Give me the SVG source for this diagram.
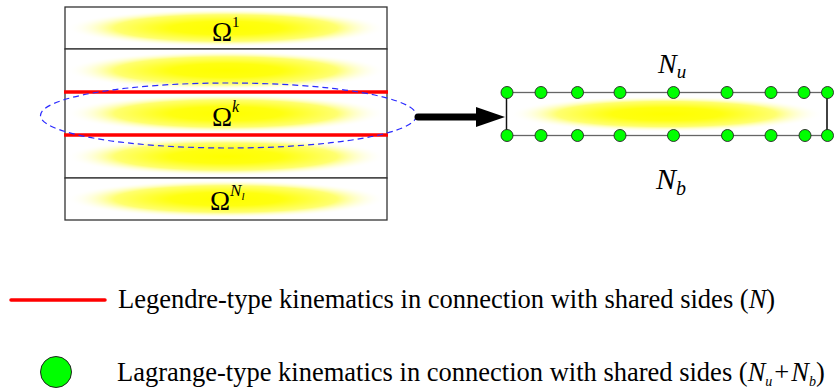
<svg xmlns="http://www.w3.org/2000/svg" width="835" height="390" viewBox="0 0 835 390">
<style>
.row{fill:#fff;stroke:#333;stroke-width:1.3}
.glow{fill:url(#yg)}
.red{stroke:#ff0000;stroke-width:3.5;fill:none}
.node{fill:#00ff00;stroke:#222;stroke-width:0.9}
.om{font-family:"Liberation Serif","Times New Roman",serif;font-size:27px;fill:#000}
.mi{font-family:"Liberation Serif","Times New Roman",serif;font-style:italic;fill:#000}
.lg{font-family:"Liberation Serif","Times New Roman",serif;font-size:26.5px;fill:#000}
</style>
<defs>
<radialGradient id="yg" cx="0.5" cy="0.5" r="0.5">
<stop offset="0" stop-color="#ffff00"/>
<stop offset="0.35" stop-color="#ffff10"/>
<stop offset="0.7" stop-color="#ffff70"/>
<stop offset="1" stop-color="#ffffff" stop-opacity="0"/>
</radialGradient>
</defs>
<rect width="835" height="390" fill="#fff"/>
<g id="layer1">
<rect class="row" x="65" y="7" width="322" height="42"/>
<rect class="glow" x="67" y="9" width="318" height="38"/>
<text class="om" x="212" y="41">Ω<tspan font-size="15" dy="-14">1</tspan></text>
</g>
<g id="layer2">
<rect class="row" x="65" y="49" width="322" height="43"/>
<rect class="glow" x="67" y="51" width="318" height="39"/>
</g>
<g id="layer3">
<rect class="row" x="65" y="92" width="322" height="43"/>
<rect class="glow" x="67" y="94" width="318" height="39"/>
<text class="om" x="212" y="126">Ω<tspan class="mi" font-size="16" dy="-14">k</tspan></text>
</g>
<g id="layer4">
<rect class="row" x="65" y="135" width="322" height="43"/>
<rect class="glow" x="67" y="137" width="318" height="39"/>
</g>
<g id="layer5">
<rect class="row" x="65" y="178" width="322" height="42"/>
<rect class="glow" x="67" y="180" width="318" height="38"/>
<text class="om" x="210" y="210">Ω<tspan class="mi" font-size="17" dy="-14">N</tspan><tspan class="mi" font-size="11" dy="4">l</tspan></text>
</g>
<g id="shared-sides">
<line class="red" x1="64" y1="92" x2="388" y2="92"/>
<line class="red" x1="64" y1="135" x2="388" y2="135"/>
<ellipse cx="228.5" cy="115.5" rx="188" ry="32.5" fill="none" stroke="#2a2aff" stroke-width="1.2" stroke-dasharray="6,4"/>
</g>
<g id="connectors">
<line x1="418" y1="117" x2="478" y2="117" stroke="#000" stroke-width="7" stroke-linecap="round"/>
<polygon points="476,107 505,117 476,127" fill="#000"/>
</g>
<g id="subdomain">
<rect x="506.5" y="92.5" width="320.5" height="43" fill="#fff" stroke="#666" stroke-width="1.3"/>
<line x1="506.5" y1="92.5" x2="506.5" y2="135.5" stroke="#111" stroke-width="1.3"/>
<line x1="827" y1="92.5" x2="827" y2="135.5" stroke="#111" stroke-width="1.3"/>
<rect class="glow" x="510" y="96" width="313" height="36"/>
<g>
<circle class="node" cx="507" cy="92.5" r="6"/>
<circle class="node" cx="541" cy="92.5" r="6"/>
<circle class="node" cx="577.5" cy="92.5" r="6"/>
<circle class="node" cx="620" cy="92.5" r="6"/>
<circle class="node" cx="673.5" cy="92.5" r="6"/>
<circle class="node" cx="727" cy="92.5" r="6"/>
<circle class="node" cx="771" cy="92.5" r="6"/>
<circle class="node" cx="804" cy="92.5" r="6"/>
<circle class="node" cx="827.5" cy="92.5" r="6"/>
<circle class="node" cx="507" cy="135.5" r="6"/>
<circle class="node" cx="541" cy="135.5" r="6"/>
<circle class="node" cx="577.5" cy="135.5" r="6"/>
<circle class="node" cx="620" cy="135.5" r="6"/>
<circle class="node" cx="673.5" cy="135.5" r="6"/>
<circle class="node" cx="727.5" cy="135.5" r="6"/>
<circle class="node" cx="771" cy="135.5" r="6"/>
<circle class="node" cx="805" cy="135.5" r="6"/>
<circle class="node" cx="827.5" cy="135.5" r="6"/>
</g>
<text class="mi" x="658" y="73" font-size="28">N<tspan font-size="19" dy="5">u</tspan></text>
<text class="mi" x="656" y="189" font-size="30">N<tspan font-size="20" dy="6">b</tspan></text>
</g>
<g id="legend">
<line x1="11" y1="300" x2="105" y2="300" stroke="#ff0000" stroke-width="3.5" stroke-linecap="round"/>
<text class="lg" x="118" y="308">Legendre-type kinematics in connection with shared sides <tspan>(</tspan><tspan font-style="italic">N</tspan><tspan>)</tspan></text>
<circle cx="56" cy="372" r="15.5" fill="#00ff00" stroke="#222" stroke-width="1"/>
<text class="lg" x="117" y="381">Lagrange-type kinematics in connection with shared sides <tspan>(</tspan><tspan font-style="italic">N</tspan><tspan font-style="italic" font-size="14" dy="5">u</tspan><tspan dy="-5" dx="2">+</tspan><tspan font-style="italic" dx="2">N</tspan><tspan font-style="italic" font-size="14" dy="5">b</tspan><tspan dy="-5">)</tspan></text>
</g>
</svg>
